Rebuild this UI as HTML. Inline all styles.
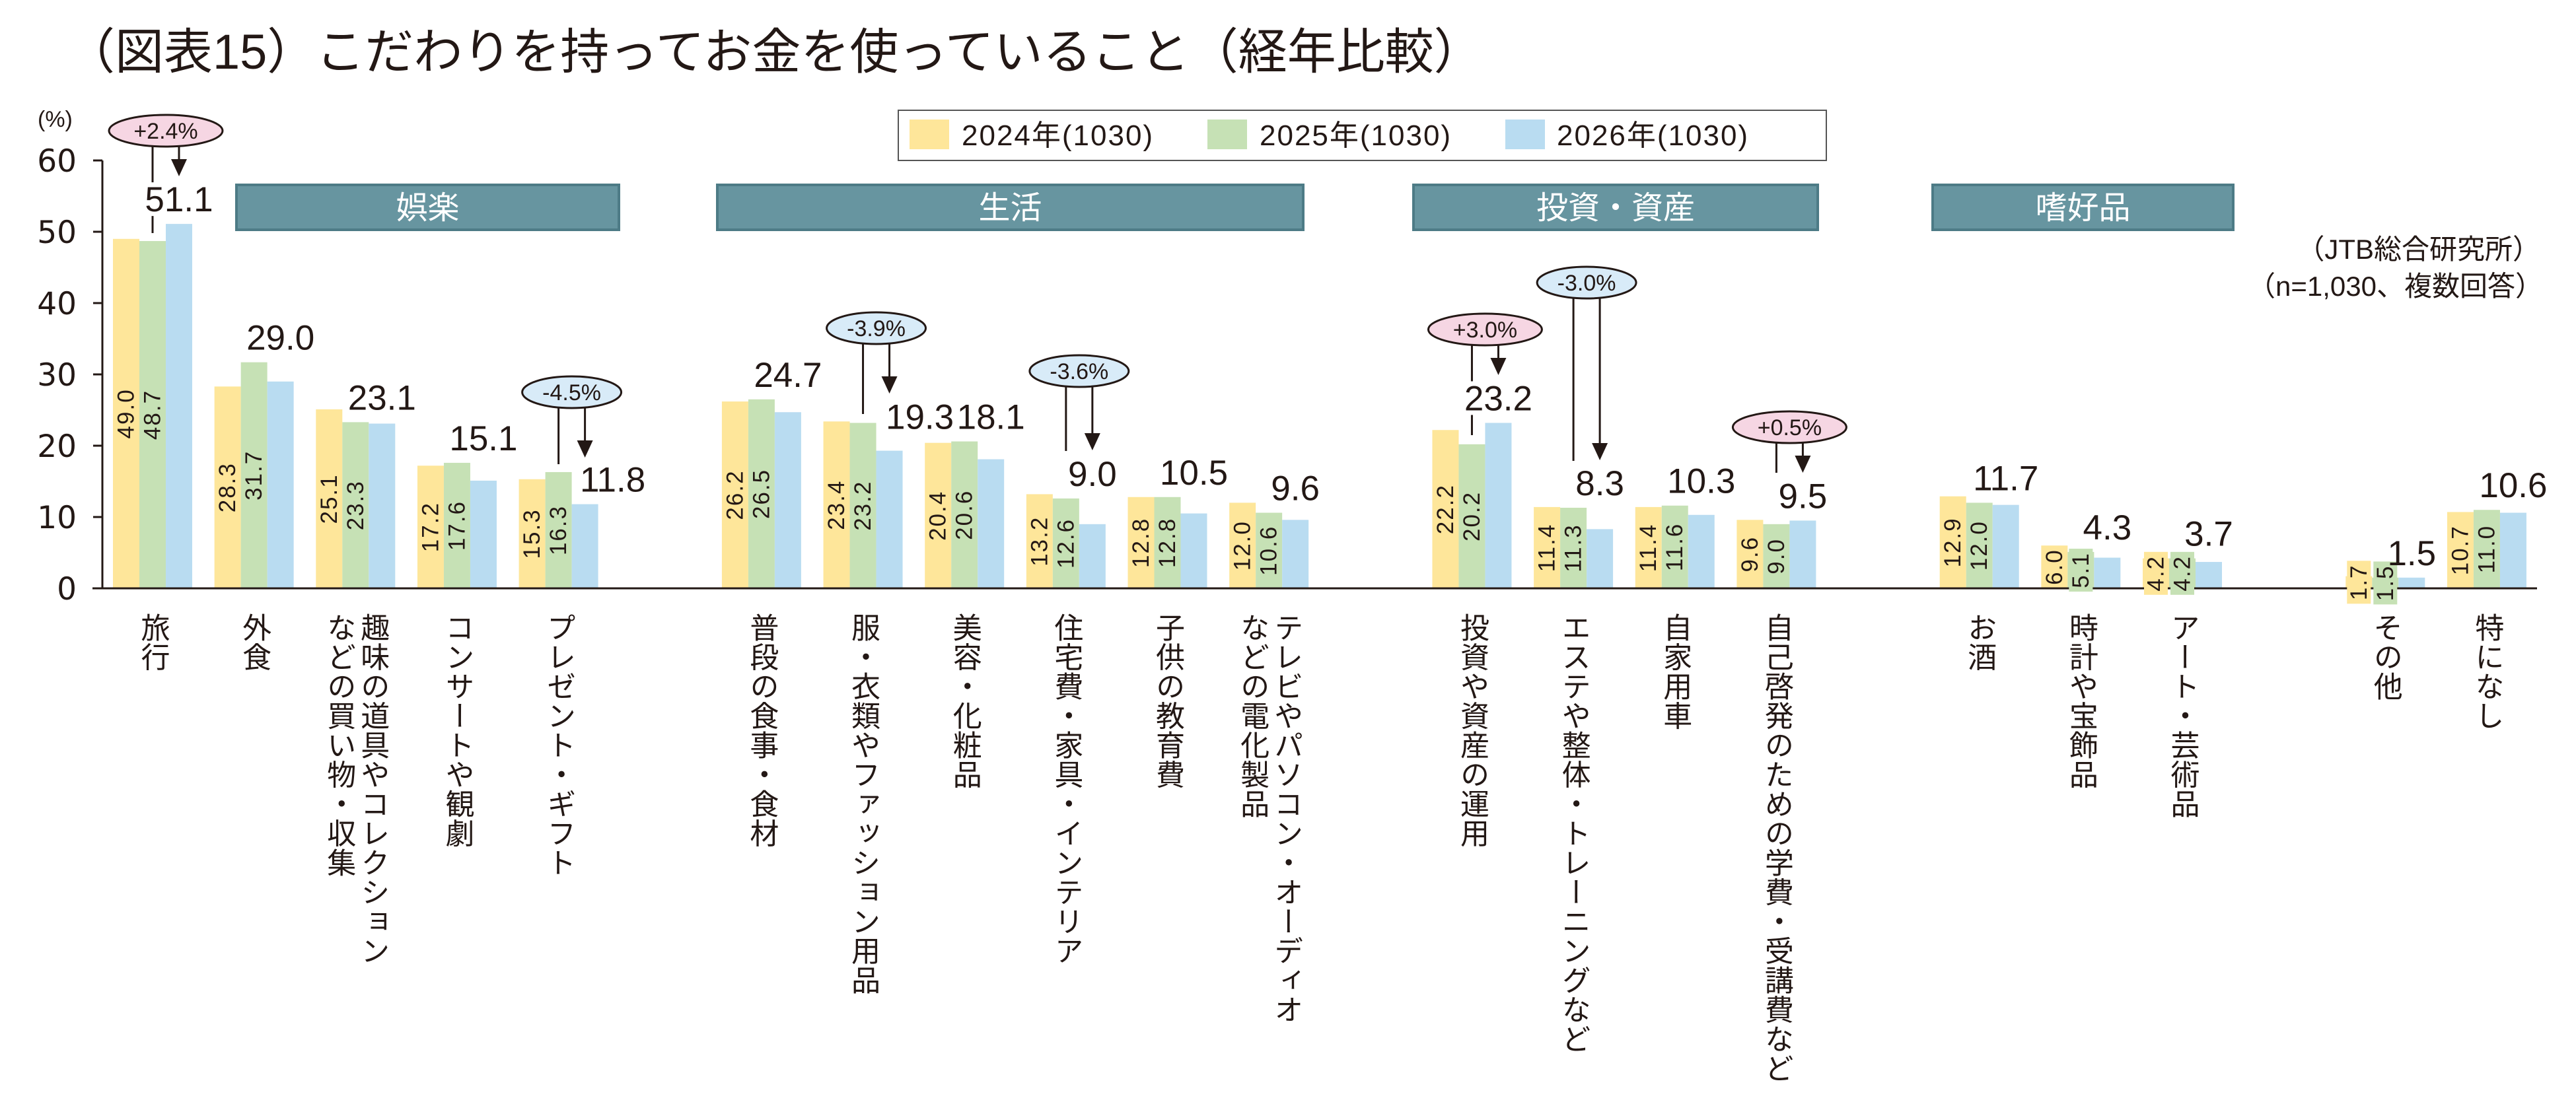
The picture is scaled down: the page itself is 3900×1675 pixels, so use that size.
<!DOCTYPE html>
<html><head><meta charset="utf-8">
<style>
html,body{margin:0;padding:0;background:#fff;}
#wrap{position:relative;width:3900px;height:1675px;overflow:hidden;background:#fff;}
svg{position:absolute;left:0;top:0;}
.cat{position:absolute;top:928px;writing-mode:vertical-rl;text-orientation:mixed;font-family:"Liberation Sans","Noto Sans CJK JP",sans-serif;font-size:44px;line-height:51px;color:#231815;transform:translateX(-50%);white-space:pre;letter-spacing:0.5px;}
</style></head>
<body>
<div id="wrap">
<svg id="chart" width="3900" height="1675" xmlns="http://www.w3.org/2000/svg">
  <text x="100" y="104" font-family="Liberation Sans, Noto Sans CJK JP, sans-serif" font-size="74" fill="#231815">（図表15）こだわりを持ってお金を使っていること（経年比較）</text>
  <text x="57" y="192" font-family="Liberation Sans, Noto Sans CJK JP, sans-serif" font-size="34" fill="#231815">(%)</text>
  <g>
    <rect x="1360" y="167" width="1405" height="76" fill="#fff" stroke="#555" stroke-width="2"/>
    <rect x="1377" y="181" width="60" height="45" fill="#fee69a"/>
    <text x="1456" y="220" font-family="Liberation Sans, Noto Sans CJK JP, sans-serif" font-size="44" letter-spacing="2" fill="#231815">2024年(1030)</text>
    <rect x="1828" y="181" width="60" height="45" fill="#c6e1b5"/>
    <text x="1907" y="220" font-family="Liberation Sans, Noto Sans CJK JP, sans-serif" font-size="44" letter-spacing="2" fill="#231815">2025年(1030)</text>
    <rect x="2279" y="181" width="60" height="45" fill="#b9dcf1"/>
    <text x="2357" y="220" font-family="Liberation Sans, Noto Sans CJK JP, sans-serif" font-size="44" letter-spacing="2" fill="#231815">2026年(1030)</text>
  </g>
  <text x="3846" y="392" text-anchor="end" font-family="Liberation Sans, Noto Sans CJK JP, sans-serif" font-size="42" fill="#231815">（JTB総合研究所）</text>
  <text x="3850" y="448" text-anchor="end" font-family="Liberation Sans, Noto Sans CJK JP, sans-serif" font-size="42" fill="#231815">（n=1,030、複数回答）</text>
  <g id="marks"></g>
</svg>
</div>
<script>
const categories = ["旅行","外食","趣味の道具やコレクション\nなどの買い物・収集","コンサートや観劇","プレゼント・ギフト","普段の食事・食材","服・衣類やファッション用品","美容・化粧品","住宅費・家具・インテリア","子供の教育費","テレビやパソコン・オーディオ\nなどの電化製品","投資や資産の運用","エステや整体・トレーニングなど","自家用車","自己啓発のための学費・受講費など","お酒","時計や宝飾品","アート・芸術品","その他","特になし"];
const values2024 = [49.0,28.3,25.1,17.2,15.3,26.2,23.4,20.4,13.2,12.8,12.0,22.2,11.4,11.4,9.6,12.9,6.0,4.2,1.7,10.7];
const values2025 = [48.7,31.7,23.3,17.6,16.3,26.5,23.2,20.6,12.6,12.8,10.6,20.2,11.3,11.6,9.0,12.0,5.1,4.2,1.5,11.0];
const values2026 = [51.1,29.0,23.1,15.1,11.8,24.7,19.3,18.1,9.0,10.5,9.6,23.2,8.3,10.3,9.5,11.7,4.3,3.7,1.5,10.6];
const yTicks = [0,10,20,30,40,50,60];
const groupNames = ["娯楽","生活","投資・資産","嗜好品"];
const changeLabels = ["+2.4%","-4.5%","-3.9%","-3.6%","+3.0%","-3.0%","+0.5%"];
const changeCategory = [0,4,6,8,11,12,14];

// layout (not data)
const slots = [0,1,2,3,4,6,7,8,9,10,11,13,14,15,16,18,19,20,22,23];
const X0 = 171, PITCH = 153.65, BW = 40;
const Y0 = 891, PXU = 10.8;
const groupBoxes = [[358,937],[1086,1973],[2140,2752],[2926,3381]];
const annLayout = [[198,267,353],[594,693,703],[497,596,627],[562,682,683],[499,568,659],[428,697,698],[647,716,716]];
const labelShift = {4:42,6:46};
const colors = ["#fee69a","#c6e1b5","#b9dcf1"];
const series = [values2024, values2025, values2026];

const NS = "http://www.w3.org/2000/svg";
const g = document.getElementById("marks");
const wrap = document.getElementById("wrap");
function y(v){ return Y0 - v*PXU; }
function xs(i){ return X0 + slots[i]*PITCH; }
function el(tag, attrs, parent){ const e=document.createElementNS(NS,tag); for(const k in attrs) e.setAttribute(k,attrs[k]); (parent||g).appendChild(e); return e; }
const INK = "#231815";

const ax = el("line",{x1:155,y1:y(60),x2:155,y2:Y0,stroke:INK,"stroke-width":3});


yTicks.forEach(t=>{
  const tk = el("line",{x1:141,y1:y(t),x2:155,y2:y(t),stroke:INK,"stroke-width":3});
  
  
  const tl = el("text",{x:116,y:y(t)+17,"text-anchor":"end","font-family":"DejaVu Sans, sans-serif","font-size":47,fill:INK});
  tl.textContent = t;
  
  
});

groupNames.forEach((n,k)=>{
  const [a,b] = groupBoxes[k];
  const r = el("rect",{x:a,y:280,width:b-a,height:68,fill:"#6795a0",stroke:"#4d7b86","stroke-width":4});
  
  
  const t = el("text",{x:(a+b)/2,y:331,"text-anchor":"middle","font-family":"Liberation Sans, Noto Sans CJK JP, sans-serif","font-size":48,fill:"#fff"});
  t.textContent = n;
  
  
});

const tops = [];
categories.forEach((c,i)=>{
  series.forEach((s,j)=>{
    const x = xs(i)+j*BW;
    const b = el("rect",{x:x,y:y(s[i]),width:BW,height:s[i]*PXU,fill:colors[j]});
    
    
    tops.push({x1:x,x2:x+BW,top:y(s[i])});
  });
});
const xl = el("line",{x1:140,y1:Y0,x2:3841,y2:Y0,stroke:INK,"stroke-width":3});



categories.forEach((c,i)=>{
  [0,1].forEach(j=>{
    const v = series[j][i];
    const cx = xs(i)+j*BW+BW/2;
    const cy = (y(v)+Y0)/2;
    const txt = v.toFixed(1);
    const len = txt.length*19;
    if (len > v*PXU){
      const bg = el("rect",{x:cx-18,y:cy-len/2-4,width:36,height:len+8,fill:colors[j]});
      
      
    }
    const t = el("text",{x:cx,y:cy,"text-anchor":"middle","dominant-baseline":"central","font-family":"Liberation Sans, sans-serif","font-size":35,"letter-spacing":2,fill:INK,transform:`rotate(-90 ${cx} ${cy})`});
    t.textContent = txt;
    
    
  });
});

categories.forEach((c,i)=>{
  const txt = values2026[i].toFixed(1);
  const w = (txt.length-1)*0.556*52 + 0.278*52;
  const cx = xs(i)+2*BW+BW/2 + (labelShift[i]||0);
  const l = cx-w/2, r = cx+w/2;
  let m = Infinity;
  tops.forEach(t=>{ if (t.x2>l && t.x1<r) m=Math.min(m,t.top); });
  const t = el("text",{x:cx,y:m-19,"text-anchor":"middle","font-family":"Liberation Sans, sans-serif","font-size":53,fill:INK});
  t.textContent = txt;
  
  
});

changeLabels.forEach((lab,k)=>{
  const i = changeCategory[k];
  const [ey,tip,lineEnd] = annLayout[k];
  const pos = lab[0]==="+";
  const ex = xs(i)+2*BW;
  const rx = pos?86:75, ry=24;
  const gx = xs(i)+BW*1.5, bx = xs(i)+BW*2.5;
  const lt = values2026[i].toFixed(1);
  const lw = (lt.length-1)*0.556*52+0.278*52;
  const lcx = bx + (labelShift[i]||0);
  let m = Infinity;
  tops.forEach(t=>{ if (t.x2>lcx-lw/2 && t.x1<lcx+lw/2) m=Math.min(m,t.top); });
  const base = m-19;
  const covers = gx > lcx-lw/2 && gx < lcx+lw/2;
  if (covers && lineEnd > base-44){
    const a = el("line",{x1:gx,y1:ey+ry,x2:gx,y2:base-44,stroke:INK,"stroke-width":3});
    
    
    const b2 = el("line",{x1:gx,y1:base+7,x2:gx,y2:lineEnd,stroke:INK,"stroke-width":3});
    
    
  } else {
    const a = el("line",{x1:gx,y1:ey+ry,x2:gx,y2:lineEnd,stroke:INK,"stroke-width":3});
    
    
  }
  const ar = el("line",{x1:bx,y1:ey+ry,x2:bx,y2:tip-24,stroke:INK,"stroke-width":3});
  
  
  const hd = el("polygon",{points:`${bx-12},${tip-26} ${bx+12},${tip-26} ${bx},${tip}`,fill:INK});
  
  
  const e = el("ellipse",{cx:ex,cy:ey,rx:rx,ry:ry,fill:pos?"#f6d6e3":"#d8ebf8",stroke:INK,"stroke-width":3});
  
  
  const t = el("text",{x:ex,y:ey+12,"text-anchor":"middle","font-family":"Liberation Sans, sans-serif","font-size":34,fill:INK});
  t.textContent = lab;
  
  
});

categories.forEach((c,i)=>{
  const d = document.createElement("div");
  d.className = "cat";
  d.style.left = (xs(i)+60)+"px";
  d.textContent = c;
  
  
  wrap.appendChild(d);
});
</script>
</body></html>
